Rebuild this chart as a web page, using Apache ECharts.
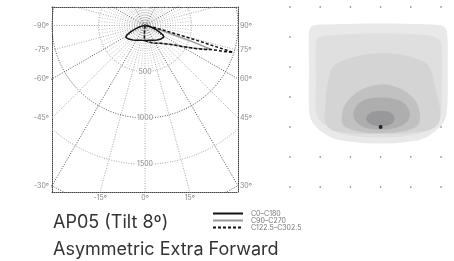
<!DOCTYPE html>
<html>
<head>
<meta charset="utf-8">
<script src="https://cdn.jsdelivr.net/npm/echarts@6/dist/echarts.min.js"></script>
<style>
  html, body { margin: 0; padding: 0; background: #fff; }
  #chart { width: 454px; height: 261px; }
</style>
</head>
<body>
<div id="chart"></div>
<script>
// polar curves: angle from nadir (deg, + = right), intensity (cd)
const blackAngles = [-90, -85, -80, -75, -70, -66, -62, -58, -55, -50, -40, -30, -20, -10, 0, 10, 20, 30, 40, 50, 55, 58, 62, 66, 70, 75, 80, 85, 90];
const blackCd = [5, 16, 38, 70, 120, 170, 225, 243, 240, 228, 205, 185, 170, 163, 161, 163, 170, 185, 204, 226, 236, 238, 220, 168, 118, 68, 36, 15, 5];

const grayAngles = [-90, -60, -30, -15, -8, -5, -3, 0, 10, 20, 30, 40, 50, 55, 60, 65, 68, 70, 71, 72, 73, 75, 80, 85, 90];
const grayCd = [0, 0, 2, 5, 20, 60, 130, 165, 178, 198, 222, 252, 310, 360, 450, 580, 680, 755, 560, 330, 200, 110, 45, 18, 6];

const dashAngles = [-90, -60, -30, -15, -8, -5, -3, 0, 10, 20, 30, 40, 50, 55, 60, 65, 68, 70, 71, 72, 73, 74, 75, 76, 78, 80, 85, 90];
const dashCd = [0, 0, 2, 5, 20, 60, 130, 163, 176, 196, 222, 252, 310, 362, 452, 585, 690, 760, 830, 920, 990, 560, 300, 170, 90, 55, 22, 6];

const seriesNames = ['C0\u2013C180', 'C90\u2013C270', 'C122.5\u2013C302.5'];

// polar grid
const circleRadii = [500, 1000, 1500, 2000];
const darkRadii = [1000, 2000];
const sideAngles = [90, 75, 60, 45, 30];
const bottomAngles = [-15, 0, 15];
const radiusLabels = [500, 1000, 1500];

// isolux plot (grid units: columns 0..5, rows 0..6 from top)
const dotCols = [0, 1, 2, 3, 4, 5];
const dotRows = [0, 1, 2, 3, 4, 5, 6];
const luminaire = [3, 4];
const contourColors = ['#e9e9ea', '#dfdfe0', '#d4d4d5', '#c1c1c2', '#aeaeaf', '#98989a'];
const contours = [
  [[0.73, 0.63], [1.32, 0.58], [2.98, 0.55], [4.64, 0.58], [5.07, 0.63], [5.2, 0.83], [5.22, 2.1], [5.2, 3.43], [5.07, 3.87], [4.54, 4.33], [3.87, 4.5], [2.98, 4.55], [2.09, 4.5], [1.32, 4.33], [0.76, 3.87], [0.63, 3.43], [0.63, 2.1], [0.63, 0.87]],
  [[0.93, 1.03], [1.49, 0.93], [2.98, 0.88], [4.47, 0.93], [4.93, 1.07], [5.03, 1.37], [5.03, 2.43], [5.0, 3.6], [4.83, 3.93], [4.07, 4.27], [2.98, 4.35], [1.89, 4.27], [1.23, 4.0], [0.89, 3.6], [0.86, 2.43], [0.86, 1.27]],
  [[1.72, 1.8], [2.38, 1.6], [2.98, 1.54], [3.74, 1.6], [4.3, 1.77], [4.6, 1.97], [4.8, 2.63], [4.97, 3.43], [4.9, 3.9], [4.5, 4.13], [2.98, 4.23], [1.46, 4.13], [1.16, 3.83], [1.16, 3.43], [1.23, 2.67], [1.39, 2.03]],
  [[1.71, 3.7], [1.82, 3.27], [2.28, 2.8], [2.98, 2.58], [3.68, 2.73], [4.14, 3.1], [4.3, 3.57], [4.24, 3.93], [3.81, 4.13], [2.98, 4.2], [2.19, 4.13], [1.79, 3.97]],
  [[2.1, 3.53], [2.25, 3.23], [2.58, 3.07], [3.01, 3.02], [3.48, 3.07], [3.81, 3.23], [3.97, 3.53], [3.87, 3.83], [3.48, 4.03], [3.01, 4.08], [2.52, 4.03], [2.19, 3.83]],
  [[2.52, 3.72], [2.65, 3.53], [3.0, 3.47], [3.35, 3.53], [3.46, 3.72], [3.35, 3.9], [3.0, 3.97], [2.65, 3.9]]
];

const rad = d => d * Math.PI / 180;
const toXY = (angles, cd) => angles.map((a, i) => [cd[i] * Math.sin(rad(a)), -cd[i] * Math.cos(rad(a))]);

const darkLines = [];
const lightLines = [];
const fineLines = [];
circleRadii.forEach(r => {
  const pts = [];
  for (let a = 0; a <= 360; a += 2) pts.push([r * Math.sin(rad(a)), -r * Math.cos(rad(a))]);
  (darkRadii.includes(r) ? darkLines : lightLines).push({ coords: pts });
});
for (let a = 0; a < 360; a += 5) {
  const major = a % 15 === 0;
  const len = major ? 3000 : 500;
  const seg = { coords: [[0, 0], [len * Math.sin(rad(a)), -len * Math.cos(rad(a))]] };
  if (!major) fineLines.push(seg);
  else if (a % 30 === 0 && a % 90 !== 0) darkLines.push(seg);
  else lightLines.push(seg);
}

const labelStyle = { fontFamily: 'Inter', fontSize: 7, color: '#666' };
const leftLabels = sideAngles.map(a => ({ value: [-1000, -1000 / Math.tan(rad(a))], name: '-' + a + 'º' }));
const rightLabels = sideAngles.map(a => ({ value: [1000, -1000 / Math.tan(rad(a))], name: a + 'º' }));
const bottomLabels = bottomAngles.map(a => ({ value: [1800 * Math.tan(rad(a)), -1800], name: a + 'º' }));
const rLabels = radiusLabels.map(r => ({ value: [0, -r], name: String(r) }));

const dots = [];
dotRows.forEach(r => dotCols.forEach(c => dots.push([c, r])));

const labelSeries = (data, pos, dist, extra) => ({
  type: 'scatter', xAxisIndex: 0, yAxisIndex: 0, symbolSize: 0, silent: true, z: 10,
  data: data,
  label: Object.assign({ show: true, position: pos, distance: dist, formatter: p => p.name }, labelStyle, extra || {})
});

const gridLines = (data, color) => ({
  type: 'lines', coordinateSystem: 'cartesian2d', xAxisIndex: 0, yAxisIndex: 0, polyline: true, clip: true, silent: true,
  data: data, lineStyle: { color: color, width: 1, type: [1, 1.5], opacity: 1 }
});

const chart = echarts.init(document.getElementById('chart'));
chart.setOption({
  animation: false,
  title: {
    text: 'AP05 (Tilt 8º)\nAsymmetric Extra Forward',
    left: 48, top: 204,
    textStyle: { fontFamily: 'Inter', fontSize: 18, fontWeight: 'normal', lineHeight: 27, color: '#333' }
  },
  legend: {
    data: seriesNames,
    orient: 'vertical',
    left: 207, top: 205,
    itemWidth: 30, itemHeight: 8, itemGap: 0,
    itemStyle: { opacity: 0 },
    formatter: name => '{g|}' + name,
    textStyle: { fontFamily: 'Inter', fontSize: 7, color: '#777', rich: { g: { width: 3 } } }
  },
  grid: [
    { left: 52, top: 7, width: 186, height: 185 },
    { left: 290, top: 7, width: 151, height: 180 }
  ],
  xAxis: [
    { type: 'value', gridIndex: 0, min: -1000, max: 1000, position: 'bottom',
      axisLine: { show: true, onZero: false, lineStyle: { color: '#444', type: [1, 1] } },
      axisTick: { show: false }, axisLabel: { show: false }, splitLine: { show: false } },
    { type: 'value', gridIndex: 0, min: -1000, max: 1000, position: 'top',
      axisLine: { show: true, onZero: false, lineStyle: { color: '#444', type: [1, 1] } },
      axisTick: { show: false }, axisLabel: { show: false }, splitLine: { show: false } },
    { type: 'value', gridIndex: 1, min: 0, max: 5, show: false }
  ],
  yAxis: [
    { type: 'value', gridIndex: 0, min: -1800, max: 200, position: 'left',
      axisLine: { show: true, onZero: false, lineStyle: { color: '#444', type: [1, 1] } },
      axisTick: { show: false }, axisLabel: { show: false }, splitLine: { show: false } },
    { type: 'value', gridIndex: 0, min: -1800, max: 200, position: 'right',
      axisLine: { show: true, onZero: false, lineStyle: { color: '#444', type: [1, 1] } },
      axisTick: { show: false }, axisLabel: { show: false }, splitLine: { show: false } },
    { type: 'value', gridIndex: 1, min: 0, max: 6, inverse: true, show: false }
  ],
  series: [
    gridLines(fineLines, '#c4c4c4'),
    gridLines(lightLines, '#a8a8a8'),
    gridLines(darkLines, '#555'),
    { name: seriesNames[1], type: 'line', xAxisIndex: 0, yAxisIndex: 0, data: toXY(grayAngles, grayCd),
      symbol: 'none', z: 3, lineStyle: { color: '#999', width: 1.5 }, itemStyle: { color: '#999' } },
    { name: seriesNames[2], type: 'line', xAxisIndex: 0, yAxisIndex: 0, data: toXY(dashAngles, dashCd),
      symbol: 'none', z: 4, lineStyle: { color: '#111', width: 1.5, type: [3, 2] }, itemStyle: { color: '#111' } },
    { name: seriesNames[0], type: 'line', xAxisIndex: 0, yAxisIndex: 0, data: toXY(blackAngles, blackCd),
      symbol: 'none', z: 5, lineStyle: { color: '#111', width: 1.5 }, itemStyle: { color: '#111' } },
    labelSeries(leftLabels, 'left', 3),
    labelSeries(rightLabels, 'right', 2),
    labelSeries(bottomLabels, 'bottom', 2),
    labelSeries(rLabels, 'inside', 0, { backgroundColor: '#fff', padding: [0, 1] }),
    { type: 'scatter', xAxisIndex: 2, yAxisIndex: 2, data: dots, symbolSize: 1.6, silent: true,
      itemStyle: { color: '#444' }, z: 1 },
    { type: 'custom', xAxisIndex: 2, yAxisIndex: 2, silent: true, z: 2,
      data: contours.map((c, i) => [i]),
      renderItem: (params, api) => {
        const i = api.value(0);
        return {
          type: 'polygon',
          shape: { points: contours[i].map(p => api.coord(p)), smooth: 0.35 },
          style: { fill: contourColors[i] }
        };
      } },
    { type: 'scatter', xAxisIndex: 2, yAxisIndex: 2, data: [luminaire], symbolSize: 4, silent: true,
      itemStyle: { color: '#000' }, z: 5 }
  ]
});
</script>
</body>
</html>
